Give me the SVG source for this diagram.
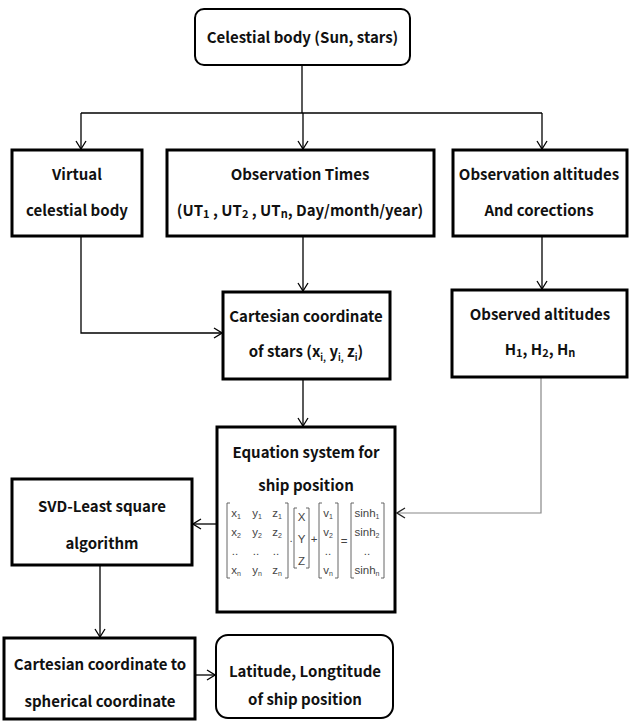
<svg xmlns="http://www.w3.org/2000/svg" width="629" height="721" viewBox="0 0 629 721">
<defs>
<marker id="arr" markerWidth="10" markerHeight="12" refX="9" refY="6" orient="auto" markerUnits="userSpaceOnUse">
<path d="M1,1 L9,6 L1,11" fill="none" stroke="#000" stroke-width="1.3"/>
</marker>
<marker id="arrg" markerWidth="10" markerHeight="12" refX="9" refY="6" orient="auto" markerUnits="userSpaceOnUse">
<path d="M1,1 L9,6 L1,11" fill="none" stroke="#222" stroke-width="1.3"/>
</marker>
</defs>
<style>
.box{fill:#fff;stroke:#000;stroke-width:3}
.rbox{fill:#fff;stroke:#000;stroke-width:2}
.t{font-family:"Noto Sans CJK KR","Noto Sans",sans-serif;font-weight:bold;font-size:15px;text-anchor:middle;fill:#111}
.m{font-family:"Liberation Sans",Arial,sans-serif;font-size:11.5px;text-anchor:middle;fill:#444}
.br{fill:none;stroke:#555;stroke-width:0.9}
.c{fill:none;stroke:#000;stroke-width:1.3}
.cg{fill:none;stroke:#888;stroke-width:1.2}
</style>
<rect width="629" height="721" fill="#fff"/>
<g id="connectors">
<path class="c" d="M302,65 V113"/>
<path class="c" d="M81,113 H542"/>
<path class="c" d="M81,113 V149" marker-end="url(#arr)"/>
<path class="c" d="M303,113 V149" marker-end="url(#arr)"/>
<path class="c" d="M542,113 V149" marker-end="url(#arr)"/>
<path class="c" d="M303,236 V291" marker-end="url(#arr)"/>
<path class="c" d="M542,236 V289" marker-end="url(#arr)"/>
<path class="c" d="M81,236 V333 H222" marker-end="url(#arr)"/>
<path class="c" d="M303,379 V426" marker-end="url(#arr)"/>
<path class="cg" d="M541,377 V513 H397" marker-end="url(#arrg)"/>
<path class="c" d="M217,524 H193" marker-end="url(#arr)"/>
<path class="c" d="M100,565 V637" marker-end="url(#arr)"/>
<path class="c" d="M195,675 H215" marker-end="url(#arr)"/>
</g>
<g id="celestial">
<rect class="rbox" x="195" y="9" width="215" height="56" rx="9"/>
<text class="t" x="302.5" y="43">Celestial body (Sun, stars)</text>
</g>
<g id="virtual">
<rect class="box" x="12" y="150" width="130" height="86"/>
<text class="t" x="77" y="180">Virtual</text>
<text class="t" x="77" y="216">celestial body</text>
</g>
<g id="times">
<rect class="box" x="167" y="150" width="267" height="86"/>
<text class="t" x="300" y="180">Observation Times</text>
<text class="t" x="300" y="216">(UT<tspan font-size="11" dy="2">1</tspan><tspan dy="-2"> , UT</tspan><tspan font-size="11" dy="2">2</tspan><tspan dy="-2"> , UT</tspan><tspan font-size="11" dy="2">n</tspan><tspan dy="-2">, Day/month/year)</tspan></text>
</g>
<g id="altitudes">
<rect class="box" x="453" y="150" width="174" height="86"/>
<text class="t" x="539" y="180">Observation altitudes</text>
<text class="t" x="539" y="216">And corections</text>
</g>
<g id="cartesian">
<rect class="box" x="223" y="292" width="167" height="87"/>
<text class="t" x="306" y="322">Cartesian coordinate</text>
<text class="t" x="306" y="357">of stars (x<tspan font-size="9" dy="4">i,</tspan><tspan dy="-4">   y</tspan><tspan font-size="9" dy="4">i,</tspan><tspan dy="-4">   z</tspan><tspan font-size="9" dy="4">i</tspan><tspan dy="-4">)</tspan></text>
</g>
<g id="observed">
<rect class="box" x="452" y="290" width="175" height="87"/>
<text class="t" x="540" y="320">Observed altitudes</text>
<text class="t" x="540" y="355">H<tspan font-size="11" dy="2">1</tspan><tspan dy="-2">, H</tspan><tspan font-size="11" dy="2">2</tspan><tspan dy="-2">, H</tspan><tspan font-size="11" dy="2">n</tspan></text>
</g>
<g id="equation">
<rect class="box" x="217" y="427" width="178" height="185"/>
<text class="t" x="306" y="458">Equation system for</text>
<text class="t" x="306" y="491">ship position</text>
<path class="br" d="M230,503 H227 V578 H230 M285,503 H288 V578 H285"/>
<text class="m" x="236" y="517">x<tspan font-size="7" dy="2">1</tspan></text>
<text class="m" x="257" y="517">y<tspan font-size="7" dy="2">1</tspan></text>
<text class="m" x="277" y="517">z<tspan font-size="7" dy="2">1</tspan></text>
<text class="m" x="236" y="536">x<tspan font-size="7" dy="2">2</tspan></text>
<text class="m" x="257" y="536">y<tspan font-size="7" dy="2">2</tspan></text>
<text class="m" x="277" y="536">z<tspan font-size="7" dy="2">2</tspan></text>
<text class="m" x="235" y="555">..</text>
<text class="m" x="256" y="555">..</text>
<text class="m" x="276" y="555">..</text>
<text class="m" x="236" y="574">x<tspan font-size="7" dy="2">n</tspan></text>
<text class="m" x="257" y="574">y<tspan font-size="7" dy="2">n</tspan></text>
<text class="m" x="277" y="574">z<tspan font-size="7" dy="2">n</tspan></text>
<text class="m" x="291" y="542">.</text>
<path class="br" d="M297,508 H294 V568 H297 M306,508 H309 V568 H306"/>
<text class="m" x="301.5" y="521">X</text>
<text class="m" x="301.5" y="543">Y</text>
<text class="m" x="301.5" y="565">Z</text>
<text class="m" x="314" y="543">+</text>
<path class="br" d="M322,503 H319 V578 H322 M335,503 H338 V578 H335"/>
<text class="m" x="328" y="517">v<tspan font-size="7" dy="2">1</tspan></text>
<text class="m" x="328" y="536">v<tspan font-size="7" dy="2">2</tspan></text>
<text class="m" x="328" y="555">..</text>
<text class="m" x="328" y="574">v<tspan font-size="7" dy="2">n</tspan></text>
<text class="m" x="344" y="545">=</text>
<path class="br" d="M354,503 H351 V578 H354 M381,503 H384 V578 H381"/>
<text class="m" x="367" y="517">sinh<tspan font-size="7" dy="2">1</tspan></text>
<text class="m" x="367" y="536">sinh<tspan font-size="7" dy="2">2</tspan></text>
<text class="m" x="367" y="555">..</text>
<text class="m" x="367" y="574">sinh<tspan font-size="7" dy="2">n</tspan></text>
</g>
<g id="svd">
<rect class="box" x="12" y="479" width="180" height="86"/>
<text class="t" x="102" y="512">SVD-Least square</text>
<text class="t" x="102" y="549">algorithm</text>
</g>
<g id="cart2sph">
<rect class="box" x="4" y="638" width="191" height="81"/>
<text class="t" x="100" y="670">Cartesian coordinate to</text>
<text class="t" x="100" y="707">spherical coordinate</text>
</g>
<g id="latlon">
<rect class="rbox" x="216" y="635" width="177" height="83" rx="12"/>
<text class="t" x="305" y="677">Latitude, Longtitude</text>
<text class="t" x="305" y="705">of ship position</text>
</g>
</svg>
